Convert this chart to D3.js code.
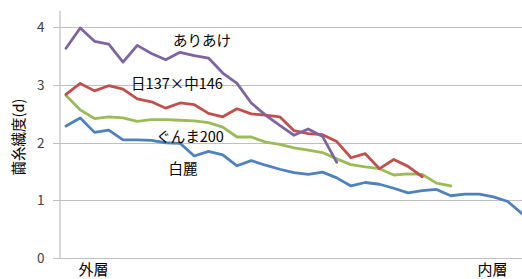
<!DOCTYPE html>
<html><head><meta charset="utf-8">
<script src="https://cdn.jsdelivr.net/npm/d3@7"></script>
<style>
html,body{margin:0;padding:0;background:#fff;}
svg{display:block;}
text{font-family:"Noto Sans CJK JP","Noto Sans",sans-serif;}
</style></head>
<body>
<svg id="chart" width="522" height="279"></svg>
<script>
const categories = d3.range(33);
const categoryLabels = [{i:2,label:"外層"},{i:30,label:"内層"}];
const yTicks = [0,1,2,3,4];
const seriesNames = ["ありあけ","日137×中146","ぐんま200","白麗"];
const ariake = [3.64,3.99,3.76,3.71,3.40,3.69,3.55,3.44,3.57,3.51,3.47,3.21,3.03,2.69,2.48,2.30,2.13,2.24,2.11,1.66];
const nichi137 = [2.84,3.03,2.90,2.99,2.93,2.76,2.71,2.60,2.69,2.66,2.51,2.45,2.59,2.50,2.48,2.45,2.21,2.16,2.14,2.02,1.74,1.81,1.55,1.71,1.59,1.41];
const gunma200 = [2.82,2.57,2.42,2.45,2.43,2.37,2.40,2.40,2.39,2.38,2.35,2.27,2.10,2.10,2.01,1.97,1.91,1.87,1.83,1.72,1.62,1.58,1.55,1.44,1.46,1.45,1.30,1.25];
const hakurei = [2.29,2.43,2.18,2.22,2.05,2.05,2.04,2.00,1.99,1.77,1.85,1.79,1.60,1.69,1.61,1.54,1.48,1.45,1.49,1.39,1.25,1.31,1.28,1.21,1.13,1.17,1.19,1.08,1.11,1.11,1.06,0.98,0.77];

const svg = d3.select("#chart");
const x = d3.scaleLinear().domain([0, 32]).range([66, 522]);
const y = d3.scaleLinear().domain([0, 4.3]).range([258, 10.2]);

// gridlines
svg.append("g").selectAll("line").data(yTicks).join("line")
  .attr("x1", 53).attr("x2", 522)
  .attr("y1", d => Math.round(y(d)) + 0.5).attr("y2", d => Math.round(y(d)) + 0.5)
  .attr("stroke", "#c0c0c0").attr("stroke-width", 1.2);

// y axis
const ax = svg.append("g").attr("transform", "translate(59.5,0)")
  .call(d3.axisLeft(y).tickValues(yTicks).tickSize(0).tickPadding(15).tickFormat(d3.format("d")));
ax.select(".domain").attr("stroke", "#c0c0c0").attr("stroke-width", 1.2);
ax.selectAll("text").attr("font-size", 13.5).attr("fill", "#404040")
  .attr("font-family", "Liberation Sans, Arial, sans-serif");

// y axis title
svg.append("text")
  .attr("transform", "translate(24,137) rotate(-90)")
  .attr("text-anchor", "middle").attr("font-size", 14.5).attr("fill", "#000")
  .text("繭糸繊度(d)");

// x category labels
svg.append("g").selectAll("text").data(categoryLabels).join("text")
  .attr("x", d => x(d.i) - 1).attr("y", 275)
  .attr("text-anchor", "middle").attr("font-size", 15).attr("fill", "#000")
  .text(d => d.label);

const line = d3.line().x((d, i) => x(categories[i])).y(d => y(d));
const series = [
  {name: seriesNames[0], values: ariake, color: "#8064a2"},
  {name: seriesNames[1], values: nichi137, color: "#c0504d"},
  {name: seriesNames[2], values: gunma200, color: "#9bbb59"},
  {name: seriesNames[3], values: hakurei, color: "#4f81bd"}
];
svg.append("g").selectAll("path").data(series.slice().reverse()).join("path")
  .attr("d", d => line(d.values))
  .attr("fill", "none").attr("stroke", d => d.color)
  .attr("stroke-width", 2.8).attr("stroke-linejoin", "round").attr("stroke-linecap", "round");

// series labels
const labelPos = [
  {name: seriesNames[0], cx: 202, cy: 39},
  {name: seriesNames[1], cx: 177, cy: 82},
  {name: seriesNames[2], cx: 190, cy: 135},
  {name: seriesNames[3], cx: 183, cy: 167}
];
svg.append("g").selectAll("text").data(labelPos).join("text")
  .attr("x", d => d.cx).attr("y", d => d.cy)
  .attr("text-anchor", "middle").attr("dominant-baseline", "central")
  .attr("font-size", 14.5).attr("fill", "#000")
  .text(d => d.name);
</script>
</body></html>
